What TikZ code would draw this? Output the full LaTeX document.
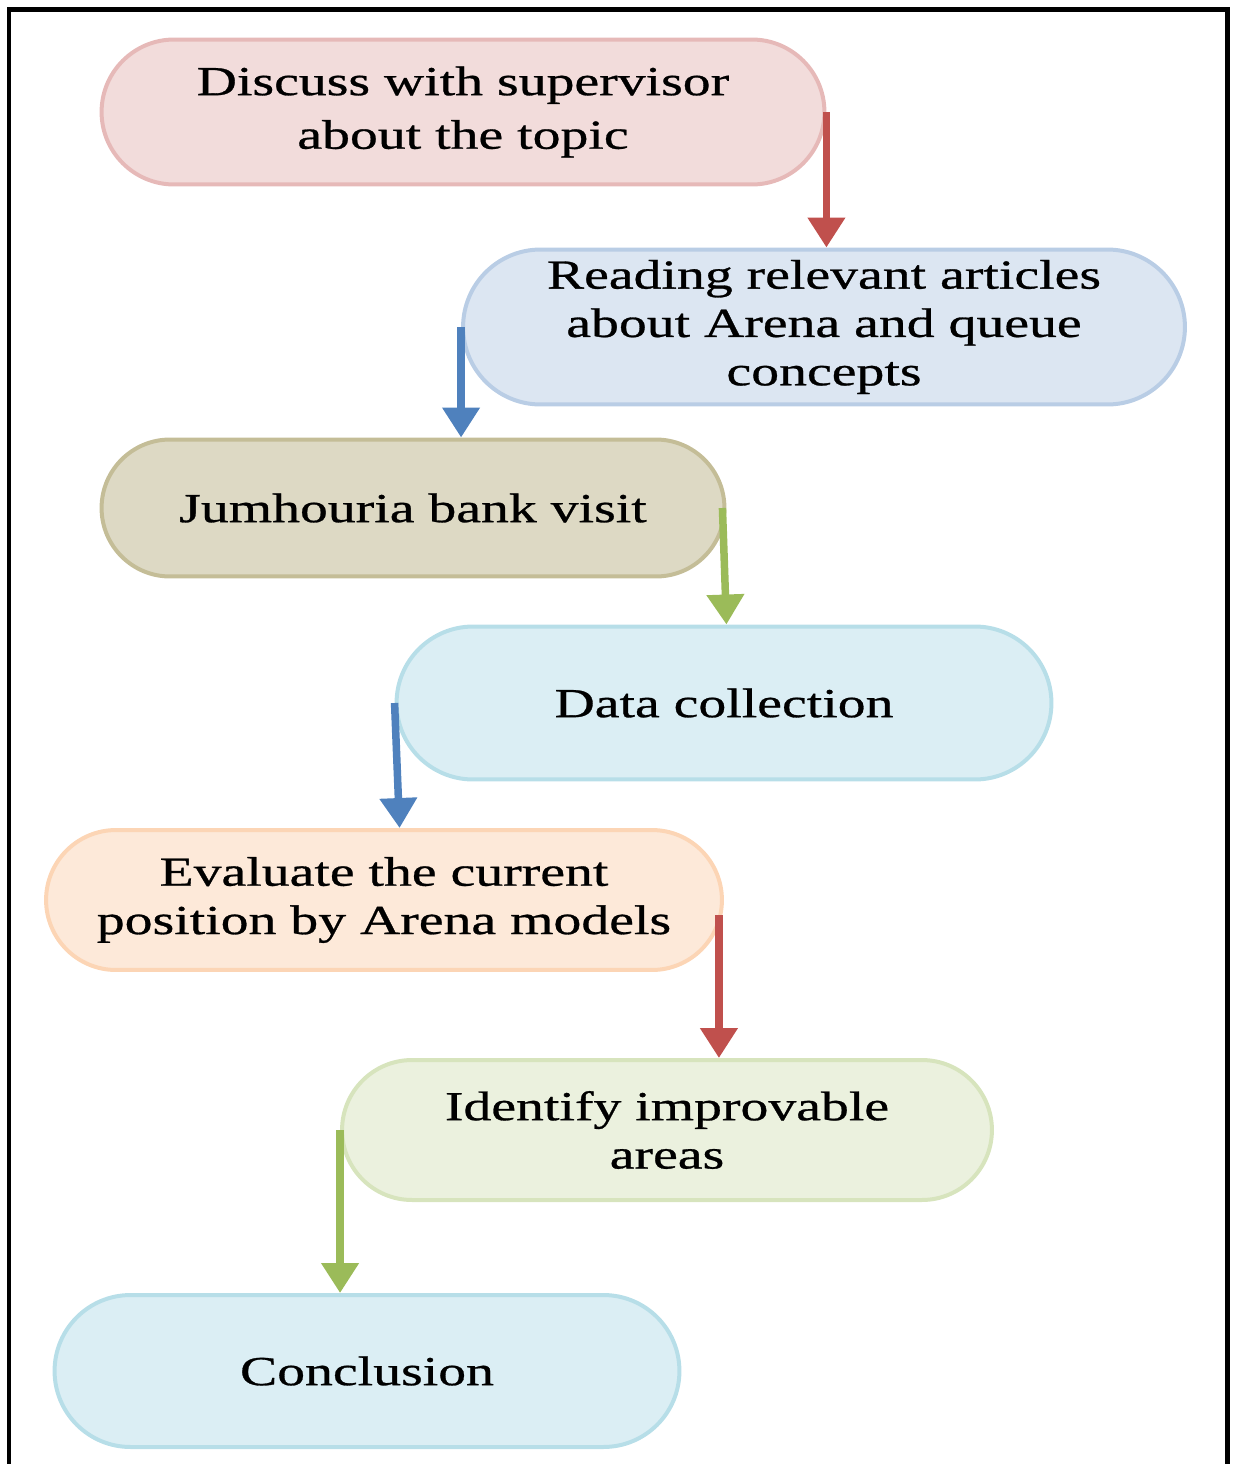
\documentclass[tikz,border=0pt]{standalone}
\usepackage{fontspec}
\newfontfamily\stepfont{Liberation Serif}[FakeStretch=1.35,FakeBold=0.7]
\usepackage{tikz}
\usetikzlibrary{shapes.misc,arrows.meta}

\definecolor{pinkfill}{HTML}{F2DCDB}
\definecolor{pinkline}{HTML}{E6B9B8}
\definecolor{bluefill}{HTML}{DCE6F2}
\definecolor{blueline}{HTML}{B9CDE5}
\definecolor{tanfill}{HTML}{DDD9C4}
\definecolor{tanline}{HTML}{C4BD97}
\definecolor{aquafill}{HTML}{DBEEF4}
\definecolor{aqualine}{HTML}{B7DEE8}
\definecolor{peachfill}{HTML}{FDE9D9}
\definecolor{peachline}{HTML}{FCD5B5}
\definecolor{greenfill}{HTML}{EBF1DE}
\definecolor{greenline}{HTML}{D7E4BD}
\definecolor{arrred}{HTML}{C0504D}
\definecolor{arrblue}{HTML}{4F81BD}
\definecolor{arrgreen}{HTML}{9BBB59}

\begin{document}
\begin{tikzpicture}[x=0.02cm,y=-0.02cm,
    stepnode/.style={rounded rectangle,line width=0.08cm,align=center,inner sep=0pt,
      font=\stepfont\fontsize{23.5}{27.5}\selectfont},
    steparrow/.style={line width=0.15cm,-{Triangle[width=0.72cm,length=0.6cm]}}]
      \useasboundingbox (0,0) rectangle (1235,1464);
      \draw[line width=0.1cm] (9,1500) -- (9,9) -- (1227,9) -- (1227,1500);

      \node[stepnode,fill=pinkfill,draw=pinkline,minimum width=14.46cm,minimum height=2.9cm] (discuss) at (463,112) {Discuss with supervisor\\[3pt]about the topic};
      \node[stepnode,fill=bluefill,draw=blueline,minimum width=14.44cm,minimum height=3.1cm] (reading) at (824,327) {Reading relevant articles\\about Arena and queue\\concepts};
      \node[stepnode,fill=tanfill,draw=tanline,minimum width=12.46cm,minimum height=2.74cm] (visit) at (413,508) {Jumhouria bank visit};
      \node[stepnode,fill=aquafill,draw=aqualine,minimum width=13.1cm,minimum height=3.06cm] (data) at (724,703) {Data collection};
      \node[stepnode,fill=peachfill,draw=peachline,minimum width=13.52cm,minimum height=2.8cm] (evaluate) at (384,900) {Evaluate the current\\position by Arena models};
      \node[stepnode,fill=greenfill,draw=greenline,minimum width=13cm,minimum height=2.8cm] (identify) at (667,1130) {Identify improvable\\areas};
      \node[stepnode,fill=aquafill,draw=aqualine,minimum width=12.5cm,minimum height=3.04cm] (conclusion) at (367,1371) {Conclusion};

      \draw[steparrow,arrred] (discuss.east) -- (discuss.east |- reading.north);
      \draw[steparrow,arrblue] (reading.west) -- (reading.west |- visit.north);
      \draw[steparrow,arrgreen] ([xshift=-0.08cm]visit.east) -- (visit.east |- data.north);
      \draw[steparrow,arrblue] (data.west) -- ([xshift=0.1cm]data.west |- evaluate.north);
      \draw[steparrow,arrred] ([xshift=-0.1cm,yshift=-0.3cm]evaluate.east) -- ([xshift=-0.1cm]evaluate.east |- identify.north);
      \draw[steparrow,arrgreen] (identify.west) -- (identify.west |- conclusion.north);
\end{tikzpicture}
\end{document}
